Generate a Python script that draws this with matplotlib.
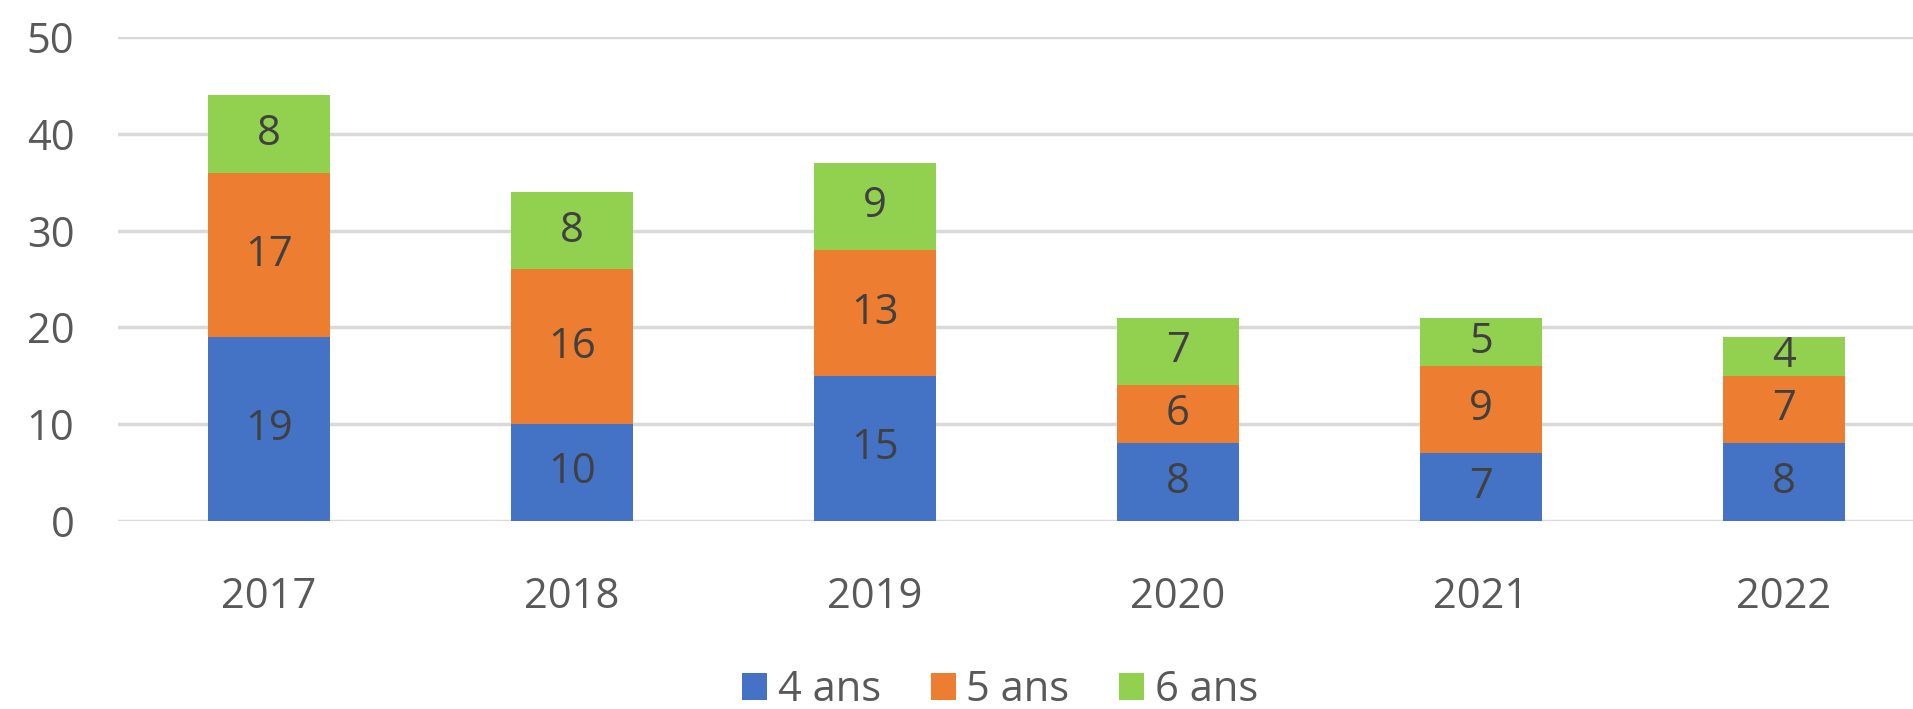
import numpy as np
import matplotlib
matplotlib.use("Agg")
import matplotlib.pyplot as plt
from matplotlib.patches import Patch

# data
years = ["2017", "2018", "2019", "2020", "2021", "2022"]
ans_4 = [19, 10, 15, 8, 7, 8]
ans_5 = [17, 16, 13, 6, 9, 7]
ans_6 = [8, 8, 9, 7, 5, 4]
series_names = ["4 ans", "5 ans", "6 ans"]
colors = ["#4472C4", "#ED7D31", "#92D050"]

plt.rcParams['font.family'] = ['Open Sans', 'DejaVu Sans']

W, H = 1913, 709
fig = plt.figure(figsize=(W / 100, H / 100), dpi=100)
# axes runs a little past the right edge, like the cropped original
ax = fig.add_axes([117.5 / W, 1 - 520.7 / H, 1818 / W, 483.5 / H])

x = np.arange(len(years))
bottom = np.zeros(len(years))
for vals, name, col in zip([ans_4, ans_5, ans_6], series_names, colors):
    vals = np.array(vals)
    bars = ax.bar(x, vals, width=0.4, bottom=bottom, color=col, label=name, zorder=3)
    for b, v, bt in zip(bars, vals, bottom):
        ax.text(b.get_x() + b.get_width() / 2, bt + v / 2, str(v),
                ha='center', va='center', fontsize=30, color='#404040', zorder=4)
    bottom += vals

ax.set_xlim(-0.5, len(years) - 0.5)
ax.set_ylim(0, 50)
ax.set_yticks(range(0, 51, 10))
ax.set_xticks(x)
ax.set_xticklabels(years)
ax.yaxis.grid(True, color='#D9D9D9', linewidth=2.5, zorder=0)
ax.set_axisbelow(True)
for s in ax.spines.values():
    s.set_visible(False)
ax.tick_params(axis='both', length=0, labelsize=30, colors='#595959')
ax.tick_params(axis='y', pad=31)
ax.tick_params(axis='x', pad=40)

handles = [Patch(facecolor=c, label=n) for c, n in zip(colors, series_names)]
fig.legend(handles=handles, loc='center', bbox_to_anchor=(1000 / W, 1 - 690 / H),
           ncol=3, frameon=False, fontsize=30, labelcolor='#595959',
           handlelength=0.6, handleheight=0.6, handletextpad=0.25, columnspacing=1.2,
           borderaxespad=0, borderpad=0)

fig.savefig("out.png", dpi=100)
